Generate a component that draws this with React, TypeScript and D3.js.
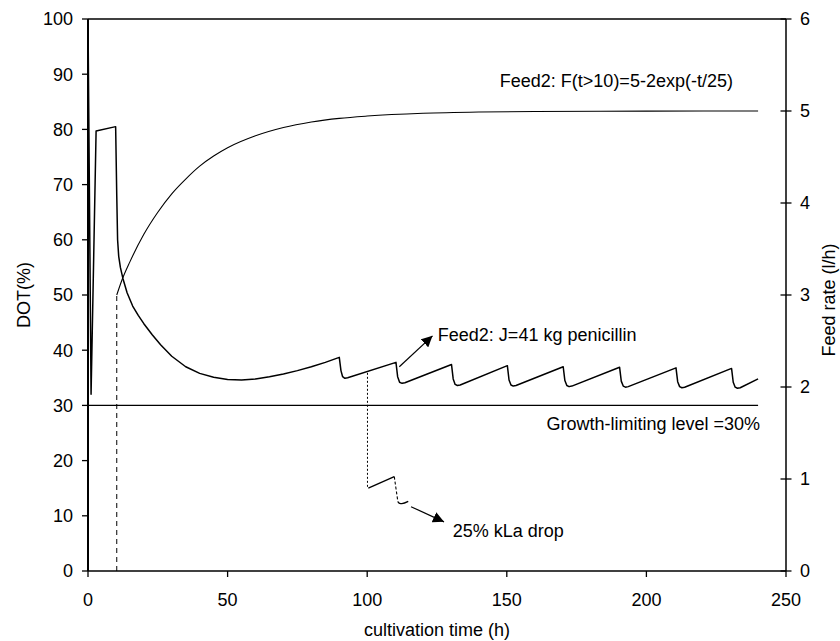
import React from "react";
import * as d3 from "d3";

// DOT (%) main trajectory: [time h, DOT %]
const dotTime = [0, 1.1, 2.9, 9.9, 10.3, 10.6, 11, 11.6, 12.5, 14, 16, 18, 20, 23, 26, 30, 35, 40, 45, 50, 55, 60, 65, 70, 75, 80, 85, 90,
  90.6, 91.2, 92, 93, 110.3,
  110.9, 111.6, 112.5, 113.5, 130.2,
  130.8, 131.5, 132.3, 133.3, 150.2,
  150.8, 151.5, 152.3, 153.3, 170.2,
  170.8, 171.5, 172.3, 173.3, 190.4,
  191, 191.7, 192.5, 193.5, 210.6,
  211.2, 211.9, 212.7, 213.7, 230.5,
  231.1, 231.8, 232.6, 233.6, 240];
const dotValue = [100, 32, 79.7, 80.5, 68, 60, 57, 55, 53, 50.4, 48, 46.3, 44.8, 42.8, 41, 38.9, 37, 35.8, 35.1, 34.7, 34.6, 34.8, 35.2, 35.7, 36.3, 37, 37.8, 38.7,
  36.3, 35.2, 34.9, 35.0, 37.8,
  35.2, 34.2, 34.0, 34.1, 37.4,
  34.8, 33.8, 33.6, 33.7, 37.2,
  34.6, 33.7, 33.5, 33.6, 37.0,
  34.5, 33.6, 33.4, 33.5, 36.9,
  34.4, 33.5, 33.3, 33.4, 36.8,
  34.3, 33.4, 33.2, 33.3, 36.7,
  34.2, 33.3, 33.1, 33.2, 34.8];

// 25% kLa drop branch
const klaDropTime = [100.1, 100.1];
const klaDropValue = [35.9, 15.0];
const klaRiseTime = [100.4, 109.7];
const klaRiseValue = [15.0, 17.1];
const klaFallTime = [109.7, 111.0];
const klaFallValue = [17.1, 12.5];
const klaTailTime = [111.0, 111.6, 112.4, 114.7];
const klaTailValue = [12.5, 12.25, 12.2, 12.6];

// Feed2 rate (l/h), right axis
const feedTime = [10.3, 12, 15, 20, 25, 30, 35, 40, 45, 50, 60, 70, 80, 90, 100, 120, 140, 160, 200, 240];
const feedValue = [3.0, 3.15, 3.36, 3.66, 3.9, 4.1, 4.26, 4.4, 4.51, 4.6, 4.73, 4.82, 4.88, 4.92, 4.945, 4.975, 4.989, 4.995, 4.999, 5.0];
const feedStartTime = 10.3;

const limitLevel = 30;
const limitEnd = 240;

const xTicks = [0, 50, 100, 150, 200, 250];
const yLeftTicks = [0, 10, 20, 30, 40, 50, 60, 70, 80, 90, 100];
const yRightTicks = [0, 1, 2, 3, 4, 5, 6];

const W = 840, H = 641;
const M = { left: 88, right: 786, top: 19, bottom: 571 };
const FONT = "'Liberation Sans', Arial, sans-serif";
const FS = 18;

export default function App() {
  const x = d3.scaleLinear().domain([0, 250]).range([M.left, M.right]);
  const yL = d3.scaleLinear().domain([0, 100]).range([M.bottom, M.top]);
  const yR = d3.scaleLinear().domain([0, 6]).range([M.bottom, M.top]);

  const lineL = (ts: number[], vs: number[], curve = d3.curveLinear) =>
    d3.line<number>().x((_, i) => x(ts[i])).y((_, i) => yL(vs[i])).curve(curve)(ts) || "";
  const lineR = d3.line<number>().x((_, i) => x(feedTime[i])).y((_, i) => yR(feedValue[i])).curve(d3.curveMonotoneX);

  // annotation arrows in data units (left axis)
  const arrows = [
    { from: [111.5, 37.0], to: [123.4, 42.6] },
    { from: [115.7, 11.65], to: [127.5, 8.9] },
  ];

  return (
    <svg width={W} height={H} style={{ position: "absolute", left: 0, top: 0, background: "#fff" }} fontFamily={FONT}>
      <defs>
        <marker id="ah" viewBox="0 0 10 10" refX="10" refY="5" markerWidth="11" markerHeight="11" markerUnits="userSpaceOnUse" orient="auto">
          <path d="M0,0 L10,5 L0,10 z" fill="#000" />
        </marker>
      </defs>

      {/* growth-limiting line */}
      <line x1={x(0)} x2={x(limitEnd)} y1={yL(limitLevel)} y2={yL(limitLevel)} stroke="#000" strokeWidth={1.3} />

      {/* dashed feed start */}
      <line x1={x(feedStartTime)} x2={x(feedStartTime)} y1={yR(0)} y2={yR(feedValue[0])} stroke="#000" strokeWidth={1} strokeDasharray="5,4" />

      {/* feed curve */}
      <path d={lineR(feedTime) || ""} fill="none" stroke="#000" strokeWidth={1.1} />

      {/* DOT */}
      <path d={lineL(dotTime, dotValue)} fill="none" stroke="#000" strokeWidth={1.5} strokeLinejoin="round" />

      {/* kLa drop branch */}
      <path d={lineL(klaDropTime, klaDropValue)} fill="none" stroke="#000" strokeWidth={1} strokeDasharray="2,2" />
      <path d={lineL(klaRiseTime, klaRiseValue)} fill="none" stroke="#000" strokeWidth={1.3} />
      <path d={lineL(klaFallTime, klaFallValue)} fill="none" stroke="#000" strokeWidth={1.1} strokeDasharray="3,2" />
      <path d={lineL(klaTailTime, klaTailValue, d3.curveMonotoneX)} fill="none" stroke="#000" strokeWidth={1.3} />

      {/* arrows */}
      {arrows.map((a, i) => (
        <line key={i} x1={x(a.from[0])} y1={yL(a.from[1])} x2={x(a.to[0])} y2={yL(a.to[1])} stroke="#000" strokeWidth={1.2} markerEnd="url(#ah)" />
      ))}

      {/* annotations */}
      <text x={x(231)} y={87} textAnchor="end" fontSize={FS}>Feed2: F(t&gt;10)=5-2exp(-t/25)</text>
      <text x={x(125.3)} y={341} fontSize={FS}>Feed2: J=41 kg penicillin</text>
      <text x={x(240.7)} y={430} textAnchor="end" fontSize={FS}>Growth-limiting level =30%</text>
      <text x={x(130.6)} y={536.5} fontSize={FS}>25% kLa drop</text>

      {/* frame top */}
      <line x1={M.left} x2={M.right} y1={M.top} y2={M.top} stroke="#000" strokeWidth={1.5} />

      {/* left axis */}
      <line x1={M.left} x2={M.left} y1={M.top} y2={M.bottom} stroke="#000" strokeWidth={2} />
      {yLeftTicks.map((t) => (
        <g key={"yl" + t}>
          <line x1={M.left - 6} x2={M.left} y1={yL(t)} y2={yL(t)} stroke="#000" strokeWidth={1.3} />
          <text x={73} y={yL(t)} dy="0.36em" textAnchor="end" fontSize={FS}>{t}</text>
        </g>
      ))}

      {/* right axis */}
      <line x1={M.right} x2={M.right} y1={M.top} y2={M.bottom} stroke="#000" strokeWidth={1.5} />
      {yRightTicks.map((t) => (
        <g key={"yr" + t}>
          <line x1={M.right - 5.5} x2={M.right + 5.5} y1={yR(t)} y2={yR(t)} stroke="#000" strokeWidth={1.3} />
          <text x={800} y={yR(t)} dy="0.36em" textAnchor="start" fontSize={FS}>{t}</text>
        </g>
      ))}

      {/* bottom axis */}
      <line x1={M.left} x2={M.right} y1={M.bottom} y2={M.bottom} stroke="#000" strokeWidth={1.5} />
      {xTicks.map((t) => (
        <g key={"x" + t}>
          <line x1={x(t)} x2={x(t)} y1={M.bottom} y2={M.bottom + 6} stroke="#000" strokeWidth={1.3} />
          <text x={x(t)} y={605.5} textAnchor="middle" fontSize={FS}>{t}</text>
        </g>
      ))}

      {/* axis titles */}
      <text x={(M.left + M.right) / 2 - 0} y={636} textAnchor="middle" fontSize={FS}>cultivation time (h)</text>
      <text transform={`translate(30,${(M.top + M.bottom) / 2}) rotate(-90)`} textAnchor="middle" fontSize={FS}>DOT(%)</text>
      <text transform={`translate(835,${(M.top + M.bottom) / 2 + 5}) rotate(-90)`} textAnchor="middle" fontSize={FS}>Feed rate (l/h)</text>
    </svg>
  );
}
